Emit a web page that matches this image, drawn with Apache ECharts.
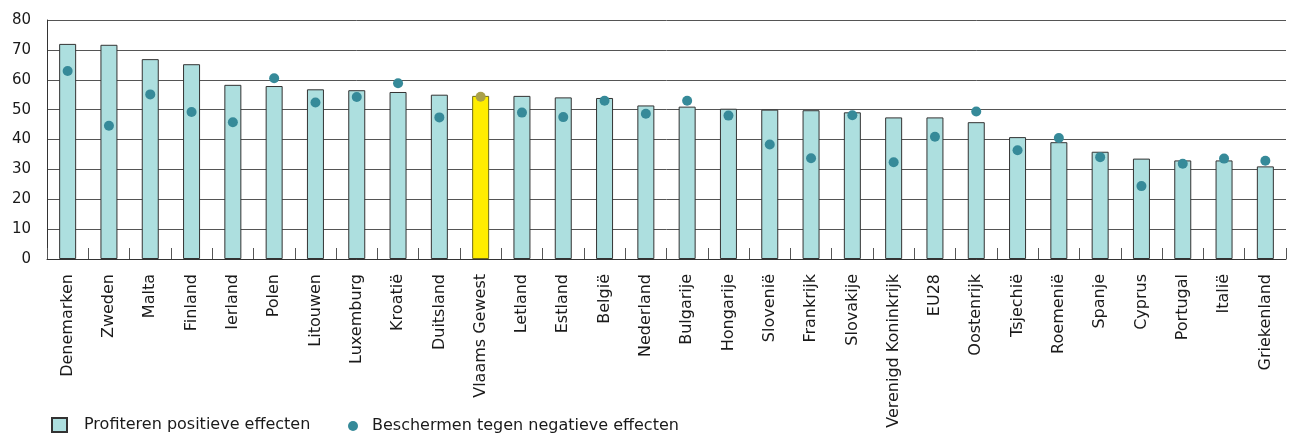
<!DOCTYPE html>
<html>
<head>
<meta charset="utf-8">
<script src="https://cdn.jsdelivr.net/npm/echarts@6/dist/echarts.min.js"></script>
<style>
  html, body { margin: 0; padding: 0; background: #ffffff; }
  #chart { width: 1293px; height: 437px; }
</style>
</head>
<body>
<div id="chart"></div>
<script>
const categories = ['Denemarken','Zweden','Malta','Finland','Ierland','Polen','Litouwen','Luxemburg','Kroatië','Duitsland','Vlaams Gewest','Letland','Estland','België','Nederland','Bulgarije','Hongarije','Slovenië','Frankrijk','Slovakije','Verenigd Koninkrijk','EU28','Oostenrijk','Tsjechië','Roemenië','Spanje','Cyprus','Portugal','Italië','Griekenland'];
const positiveValues = [72.0, 71.7, 66.9, 65.2, 58.3, 57.9, 56.8, 56.5, 55.9, 55.0, 54.6, 54.6, 54.1, 53.9, 51.4, 51.0, 50.3, 50.0, 49.8, 49.1, 47.4, 47.4, 45.8, 40.8, 39.1, 35.9, 33.6, 33.0, 33.0, 31.0];
const negativeValues = [62.9, 44.6, 55.1, 49.2, 45.8, 60.5, 52.4, 54.2, 58.8, 47.4, 54.3, 49.0, 47.5, 53.0, 48.6, 53.0, 48.0, 38.3, 33.7, 48.1, 32.4, 40.9, 49.4, 36.4, 40.5, 34.1, 24.4, 31.9, 33.6, 32.9];
const yTicks = [0, 10, 20, 30, 40, 50, 60, 70, 80];
const highlight = 'Vlaams Gewest';
const seriesNames = ['Profiteren positieve effecten', 'Beschermen tegen negatieve effecten'];

const FONT = 'DejaVu Sans';
const barData = positiveValues.map((v, i) => categories[i] === highlight
  ? { value: v, itemStyle: { color: '#ffed00', borderColor: '#6e6a1c' } }
  : v);
const dotData = negativeValues.map((v, i) => categories[i] === highlight
  ? { value: v, itemStyle: { color: '#a9a04a' } }
  : v);

const chart = echarts.init(document.getElementById('chart'), null, { renderer: 'canvas' });
chart.setOption({
  animation: false,
  backgroundColor: '#ffffff',
  grid: { left: 47, right: 7, top: 20, bottom: 178, containLabel: false },
  legend: [
    {
      data: [{ name: seriesNames[0], icon: 'rect' }],
      left: 46, top: 412, itemWidth: 15, itemHeight: 14,
      textStyle: { fontFamily: FONT, fontSize: 16, color: '#1a1a1a', padding: [0, 0, 0, 12] }
    },
    {
      data: [{ name: seriesNames[1], icon: 'circle' }],
      left: 343, top: 413, itemWidth: 10, itemHeight: 10,
      textStyle: { fontFamily: FONT, fontSize: 16, color: '#1a1a1a', padding: [0, 0, 0, 9] }
    }
  ],
  xAxis: {
    type: 'category',
    data: categories,
    boundaryGap: true,
    axisLine: { show: true, lineStyle: { color: '#333', width: 1 } },
    axisTick: { show: true, inside: true, length: 11, lineStyle: { color: '#555', width: 1 } },
    axisLabel: { rotate: 90, interval: 0, margin: 15, fontFamily: FONT, fontSize: 16, color: '#1a1a1a' },
    splitLine: { show: false }
  },
  yAxis: {
    type: 'value',
    min: yTicks[0],
    max: yTicks[yTicks.length - 1],
    interval: yTicks[1] - yTicks[0],
    axisLine: { show: true, lineStyle: { color: '#333', width: 1 } },
    axisTick: { show: false },
    axisLabel: { margin: 16, fontFamily: FONT, fontSize: 15, color: '#1a1a1a' },
    splitLine: { show: true, lineStyle: { color: '#555', width: 1 } }
  },
  series: [
    {
      name: seriesNames[0],
      type: 'bar',
      data: barData,
      barWidth: 17,
      itemStyle: { color: '#addfdf', borderColor: '#333', borderWidth: 1 },
      z: 2
    },
    {
      name: seriesNames[1],
      type: 'scatter',
      data: dotData,
      symbol: 'circle',
      symbolSize: 10,
      itemStyle: { color: '#368a99', opacity: 1 },
      z: 3
    }
  ]
});
</script>
</body>
</html>
